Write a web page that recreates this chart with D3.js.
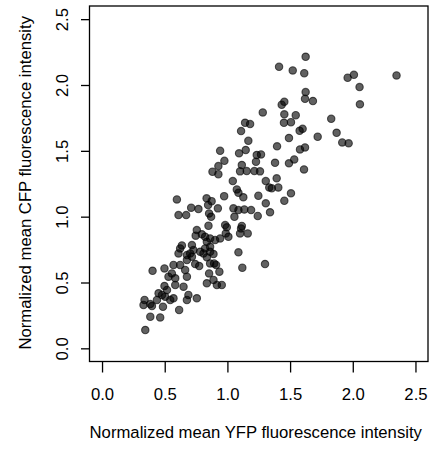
<!DOCTYPE html>
<html>
<head>
<meta charset="utf-8">
<script src="https://cdn.jsdelivr.net/npm/d3@7"></script>
<style>
  body { margin: 0; background: #fff; }
  text { font-family: "Liberation Sans", Arial, sans-serif; fill: #000; }
</style>
</head>
<body>
<svg id="chart" width="432" height="453"></svg>
<script>
// mean YFP (x) and CFP (y), normalized
const yfp = [
  1.624, 1.412, 1.521, 1.613, 1.959, 2.009, 2.349, 2.054, 1.624, 1.619,
  1.682, 1.454, 1.433, 2.057, 1.282, 1.454, 1.545, 1.451, 1.507, 1.828,
  1.600, 1.576, 1.871, 1.491, 1.720, 1.916, 1.967, 1.396, 1.579, 1.619,
  1.611,
  1.141, 1.181, 1.109, 1.167, 0.942, 1.146, 1.093, 1.234, 1.268, 0.976,
  0.928, 0.881, 0.928, 1.115, 1.228, 1.380, 1.491, 1.533, 1.101, 1.154,
  1.215, 1.260, 1.043, 1.306, 1.393, 1.334, 1.354, 1.406, 1.075, 1.088,
  0.974, 1.127, 1.247, 1.507, 1.306, 1.454, 0.924, 1.048, 1.088, 1.135,
  1.189, 1.340, 1.056, 1.242, 0.982, 0.995, 1.115, 1.109, 0.987, 1.008,
  1.101, 1.162,
  0.597, 0.610, 0.671, 0.711, 0.769, 0.834, 0.846, 0.874, 0.870, 0.854,
  0.849, 0.756, 0.747, 0.796, 0.637, 0.623, 0.717, 0.729, 0.836, 0.822,
  0.862, 0.783, 0.862, 0.822, 0.862, 0.902, 0.942,
  0.610, 0.677, 0.717, 0.703, 0.809, 0.570, 0.623, 0.498, 0.403, 0.743,
  0.775, 0.836, 0.889, 0.862, 0.894, 0.910, 0.854, 0.663, 0.677, 0.557,
  0.530, 0.584, 0.836, 0.889, 0.650, 0.584, 0.498, 0.518, 0.478, 0.504,
  0.451, 0.544, 0.570, 0.689, 0.677, 0.756, 0.339, 0.385, 0.398, 0.438,
  0.486, 0.615, 0.385, 0.464, 0.345, 0.331, 1.088, 1.119, 1.300, 0.936,
  0.916, 0.955, 0.677
];
const cfp = [
  2.214, 2.138, 2.111, 2.090, 2.055, 2.077, 2.073, 1.984, 1.946, 1.895,
  1.878, 1.872, 1.850, 1.853, 1.792, 1.777, 1.771, 1.713, 1.718, 1.743,
  1.667, 1.652, 1.637, 1.597, 1.607, 1.564, 1.557, 1.534, 1.511, 1.526,
  1.359,
  1.713, 1.703, 1.650, 1.576, 1.500, 1.506, 1.481, 1.468, 1.473, 1.424,
  1.384, 1.341, 1.323, 1.392, 1.417, 1.409, 1.405, 1.435, 1.344, 1.346,
  1.346, 1.344, 1.270, 1.270, 1.291, 1.222, 1.215, 1.222, 1.207, 1.181,
  1.156, 1.147, 1.159, 1.177, 1.101, 1.121, 1.063, 1.063, 1.050, 1.055,
  1.050, 1.033, 0.999, 1.005, 0.936, 0.919, 0.929, 0.911, 0.873, 0.847,
  0.873, 0.873,
  1.131, 1.012, 1.012, 1.068, 1.058, 1.139, 1.088, 1.118, 0.999, 1.024,
  0.931, 0.898, 0.856, 0.866, 0.781, 0.759, 0.784, 0.746, 0.809, 0.759,
  0.771, 0.733, 0.733, 0.847, 0.835, 0.822, 0.835,
  0.721, 0.708, 0.696, 0.721, 0.721, 0.633, 0.633, 0.607, 0.589, 0.640,
  0.625, 0.691, 0.716, 0.645, 0.645, 0.633, 0.569, 0.595, 0.544, 0.569,
  0.544, 0.532, 0.494, 0.519, 0.468, 0.481, 0.473, 0.443, 0.405, 0.392,
  0.418, 0.367, 0.380, 0.405, 0.367, 0.380, 0.367, 0.336, 0.321, 0.367,
  0.316, 0.291, 0.240, 0.235, 0.139, 0.329, 0.729, 0.612, 0.640, 0.582,
  0.481, 0.481, 0.670
];
const xTicks = [0, 0.5, 1, 1.5, 2, 2.5];
const yTicks = [0, 0.5, 1, 1.5, 2, 2.5];
const xTitle = 'Normalized mean YFP fluorescence intensity';
const yTitle = 'Normalized mean CFP fluorescence intensity';

const svg = d3.select('#chart');
const plotL = 89.5, plotR = 428, plotT = 6, plotB = 361.5;

// R style: limits 0..2.5 widened by 4% each side
const x = d3.scaleLinear().domain([-0.1, 2.6]).range([plotL, plotR]);
const y = d3.scaleLinear().domain([-0.1, 2.6]).range([plotB, plotT]);
const fmt = d3.format('.1f');

const points = yfp.map((v, i) => ({ x: v, y: cfp[i] }));

svg.append('g')
  .selectAll('circle')
  .data(points)
  .join('circle')
  .attr('cx', d => x(d.x))
  .attr('cy', d => y(d.y))
  .attr('r', 3.7)
  .style('fill', 'rgba(0,0,0,0.62)')
  .style('stroke', 'rgba(0,0,0,0.62)')
  .style('stroke-width', 1.1);

// box
svg.append('rect')
  .attr('x', plotL).attr('y', plotT)
  .attr('width', plotR - plotL).attr('height', plotB - plotT)
  .style('fill', 'none').style('stroke', '#000').style('stroke-width', 1.3);

const xAxis = svg.append('g')
  .attr('transform', `translate(0,${plotB})`)
  .call(d3.axisBottom(x).tickValues(xTicks).tickFormat(fmt).tickSize(11).tickPadding(0));
xAxis.select('.domain').remove();
xAxis.selectAll('line').style('stroke', '#000').style('stroke-width', 1.3);
xAxis.selectAll('text')
  .attr('y', 38).attr('dy', null)
  .style('font-size', '16.7px').style('fill', '#000');

const yAxis = svg.append('g')
  .attr('transform', `translate(${plotL},0)`)
  .call(d3.axisLeft(y).tickValues(yTicks).tickFormat(fmt).tickSize(8.5).tickPadding(0));
yAxis.select('.domain').remove();
yAxis.selectAll('line').style('stroke', '#000').style('stroke-width', 1.3);
yAxis.selectAll('text')
  .attr('x', null).attr('dy', null)
  .attr('transform', 'translate(-21.3,0) rotate(-90)')
  .attr('text-anchor', 'middle')
  .style('font-size', '16.7px').style('fill', '#000');

svg.append('text')
  .attr('x', (plotL + plotR) / 2 - 3).attr('y', 438)
  .attr('text-anchor', 'middle')
  .style('font-size', '16.7px')
  .text(xTitle);

svg.append('text')
  .attr('transform', `translate(31,${(plotT + plotB) / 2 - 1}) rotate(-90)`)
  .attr('text-anchor', 'middle')
  .style('font-size', '16.7px')
  .text(yTitle);
</script>
</body>
</html>
